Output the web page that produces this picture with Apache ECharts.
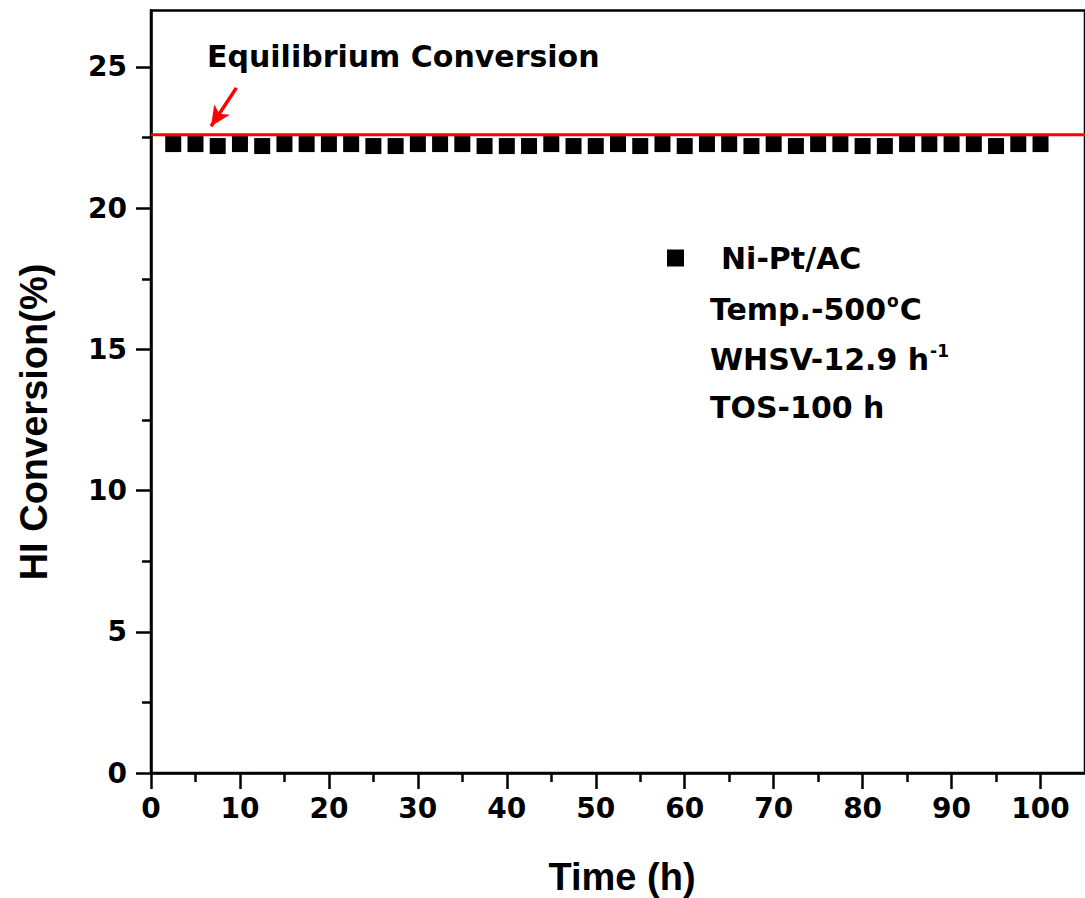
<!DOCTYPE html>
<html>
<head>
<meta charset="utf-8">
<script src="https://cdn.jsdelivr.net/npm/echarts@6/dist/echarts.min.js"></script>
<style>
html,body{margin:0;padding:0;background:#fff;}
#chart{width:1085px;height:898px;}
</style>
</head>
<body>
<div id="chart"></div>
<script>
// ---- data ----
const times = [2.5, 5, 7.5, 10, 12.5, 15, 17.5, 20, 22.5, 25, 27.5, 30, 32.5, 35, 37.5, 40, 42.5, 45, 47.5, 50,
               52.5, 55, 57.5, 60, 62.5, 65, 67.5, 70, 72.5, 75, 77.5, 80, 82.5, 85, 87.5, 90, 92.5, 95, 97.5, 100];
const conversion = [22.27, 22.27, 22.20, 22.27, 22.20, 22.27, 22.27, 22.27, 22.27, 22.20,
                    22.20, 22.27, 22.27, 22.27, 22.20, 22.20, 22.20, 22.27, 22.20, 22.20,
                    22.27, 22.20, 22.27, 22.20, 22.27, 22.27, 22.20, 22.27, 22.20, 22.27,
                    22.27, 22.20, 22.20, 22.27, 22.27, 22.27, 22.27, 22.20, 22.27, 22.27];
const eqValue = 22.6;
const eqSpan = [0, 105];
const xMajorTicks = [0, 10, 20, 30, 40, 50, 60, 70, 80, 90, 100];
const xMinorTicks = [5, 15, 25, 35, 45, 55, 65, 75, 85, 95];
const yMajorTicks = [0, 5, 10, 15, 20, 25];
const yMinorTicks = [2.5, 7.5, 12.5, 17.5, 22.5];
const arrowFrom = [9.6, 24.26];
const arrowTo = [6.75, 22.9];
const seriesName = 'Ni-Pt/AC';

// ---- chart ----
const chart = echarts.init(document.getElementById('chart'), null, {renderer: 'svg'});
const tickFont = {fontFamily: 'DejaVu Sans', fontWeight: 'bold', fontSize: 28, color: '#000'};
const noteFont = 'DejaVu Sans';

const option = {
  backgroundColor: '#fff',
  animation: false,
  grid: {left: 151, right: -7, top: 10.5, bottom: 125, show: true, borderColor: '#000', borderWidth: 2.5, backgroundColor: 'transparent'},
  xAxis: [
    {type: 'value', min: 0, max: 105, position: 'bottom',
     axisLine: {show: true, lineStyle: {color: '#000', width: 2.5}},
     axisTick: {show: true, inside: false, length: 16, lineStyle: {color: '#000', width: 2.5}, customValues: xMajorTicks},
     axisLabel: Object.assign({margin: 21, customValues: xMajorTicks}, tickFont),
     splitLine: {show: false}},
    {type: 'value', min: 0, max: 105, position: 'bottom',
     axisLine: {show: false},
     axisTick: {show: true, inside: false, length: 9, lineStyle: {color: '#000', width: 2.5}, customValues: xMinorTicks},
     axisLabel: {show: false},
     splitLine: {show: false}}
  ],
  yAxis: [
    {type: 'value', min: 0, max: 27, position: 'left',
     axisLine: {show: true, lineStyle: {color: '#000', width: 2.5}},
     axisTick: {show: true, inside: false, length: 15, lineStyle: {color: '#000', width: 2.5}, customValues: yMajorTicks},
     axisLabel: Object.assign({margin: 24, customValues: yMajorTicks}, tickFont),
     splitLine: {show: false}},
    {type: 'value', min: 0, max: 27, position: 'left',
     axisLine: {show: false},
     axisTick: {show: true, inside: false, length: 9, lineStyle: {color: '#000', width: 2.5}, customValues: yMinorTicks},
     axisLabel: {show: false},
     splitLine: {show: false}}
  ],
  legend: {
    data: [seriesName],
    left: 662, top: 238,
    icon: 'rect', itemWidth: 17, itemHeight: 17,
    itemStyle: {color: '#000', opacity: 1},
    formatter: '{a|{name}}',
    textStyle: {rich: {a: {fontFamily: noteFont, fontWeight: 'bold', fontSize: 30, color: '#000', padding: [0, 0, 0, 32]}}}
  },
  series: [
    {name: seriesName, type: 'scatter', xAxisIndex: 0, yAxisIndex: 0,
     symbol: 'rect', symbolSize: 16, itemStyle: {color: '#000', opacity: 1},
     data: times.map((t, i) => [t, conversion[i]]), z: 2},
    {name: 'Equilibrium', type: 'line', xAxisIndex: 0, yAxisIndex: 0,
     data: eqSpan.map(x => [x, eqValue]), showSymbol: false, symbol: 'none',
     lineStyle: {color: '#ff0000', width: 3}, z: 3, silent: true,
     markLine: {silent: true, symbol: ['none', 'arrow'], symbolSize: [14, 20],
       lineStyle: {color: '#ff0000', width: 3.5, type: 'solid'}, label: {show: false},
       data: [[{coord: arrowFrom}, {coord: arrowTo}]]}}
  ],
  graphic: [
    {type: 'text', left: 207, top: 41, style: {text: 'Equilibrium Conversion', fontFamily: noteFont, fontWeight: 'bold', fontSize: 30, fill: '#000'}},
    {type: 'text', left: 710, top: 292, style: {text: '{n|Temp.-500}{s|o}{n|C}', rich: {
      n: {fontFamily: noteFont, fontWeight: 'bold', fontSize: 30, fill: '#000', lineHeight: 34},
      s: {fontFamily: noteFont, fontWeight: 'bold', fontSize: 17, fill: '#000', lineHeight: 34, verticalAlign: 'top', padding: [0, 1, 16, 1]}}}},
    {type: 'text', left: 710, top: 342, style: {text: '{n|WHSV-12.9 h}{s|-1}', rich: {
      n: {fontFamily: noteFont, fontWeight: 'bold', fontSize: 30, fill: '#000', lineHeight: 34},
      s: {fontFamily: noteFont, fontWeight: 'bold', fontSize: 17, fill: '#000', lineHeight: 34, verticalAlign: 'top', padding: [0, 0, 14, 1]}}}},
    {type: 'text', left: 710, top: 392, style: {text: 'TOS-100 h', fontFamily: noteFont, fontWeight: 'bold', fontSize: 30, fill: '#000'}},
    {type: 'text', x: 622, y: 877, style: {text: 'Time (h)', fontFamily: 'Liberation Sans', fontWeight: 'bold', fontSize: 38, fill: '#000', align: 'center', verticalAlign: 'middle'}},
    {type: 'text', x: 34, y: 422, rotation: Math.PI / 2, style: {text: 'HI Conversion(%)', fontFamily: 'Liberation Sans', fontWeight: 'bold', fontSize: 38, fill: '#000', align: 'center', verticalAlign: 'middle'}}
  ]
};
chart.setOption(option);
</script>
</body>
</html>
